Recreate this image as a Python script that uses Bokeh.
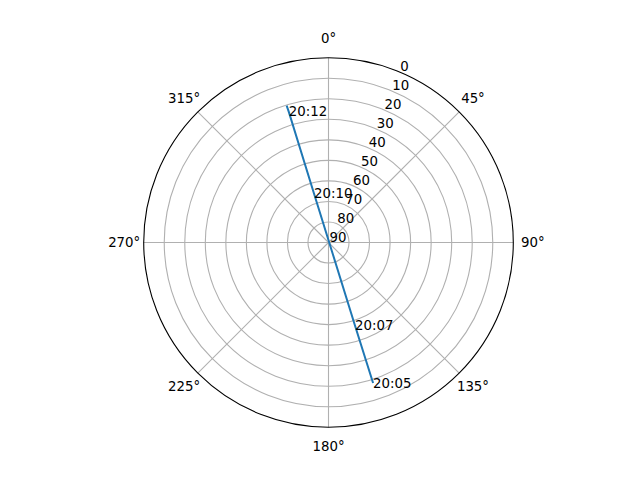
import numpy as np
from bokeh.plotting import figure
from bokeh.models import Range1d, ColumnDataSource
from bokeh.core.properties import value
from bokeh.embed import file_html
from bokeh.resources import INLINE

# Satellite pass (azimuth in degrees clockwise from north, elevation in degrees)
track_az = [162.4, 162.3, 343.5, 343.1, 343.0]
track_el = [18.2, 47.6, 65.1, 23.5, 20.3]
track_labels = ["20:05", "20:07", "20:10", "20:12", ""]

ring_el = [10, 20, 30, 40, 50, 60, 70, 80]
rlabel_el = [0, 10, 20, 30, 40, 50, 60, 70, 80, 90]
theta_ticks = [0, 45, 90, 135, 180, 225, 270, 315]
theta_labels = ["0°", "45°", "90°", "135°", "180°", "225°", "270°", "315°"]

FONT = "DejaVu Sans"
FS = "13.33px"

def to_xy(az, el):
    az = np.radians(np.asarray(az, dtype=float))
    r = 90.0 - np.asarray(el, dtype=float)
    return r * np.sin(az), r * np.cos(az)

scale = 184.8 / 90.0
W, H = 624, 464
cx, cy = 328, 242
p = figure(width=W, height=H, output_backend="svg", toolbar_location=None,
           x_range=Range1d(-cx / scale, (W - cx) / scale),
           y_range=Range1d(-(H - cy) / scale, cy / scale),
           min_border=0, outline_line_color=None)
p.axis.visible = False
p.grid.visible = False
p.background_fill_color = "white"
p.border_fill_color = "white"

# grid rings
p.circle(x=[0] * len(ring_el), y=[0] * len(ring_el), radius=[90 - e for e in ring_el],
         fill_color=None, line_color="#b0b0b0", line_width=1.1)
# radial grid lines
for t in theta_ticks:
    ex, ey = to_xy([t], [0])
    p.line([0, ex[0]], [0, ey[0]], line_color="#b0b0b0", line_width=1.1)
# outer spine
p.circle(x=[0], y=[0], radius=[90], fill_color=None, line_color="black", line_width=1.1)

# theta labels
tx = [99.5 * np.sin(np.radians(t)) for t in theta_ticks]
ty = [99.5 * np.cos(np.radians(t)) for t in theta_ticks]
p.text(x=tx, y=ty, text=theta_labels, text_align="center", text_baseline="middle",
       text_font=value(FONT), text_font_size=FS, text_color="black")

# radial labels at 22.5 degrees
rx, ry = to_xy([22.5] * len(rlabel_el), rlabel_el)
p.text(x=rx, y=ry, text=[str(v) for v in rlabel_el], text_align="left", text_baseline="bottom",
       x_offset=1, y_offset=-1, text_font=value(FONT), text_font_size=FS, text_color="black")

# track
x, y = to_xy(track_az, track_el)
p.line(x, y, line_color="#1f77b4", line_width=2.0)
src = ColumnDataSource(dict(x=x, y=y, t=track_labels))
p.text(x="x", y="y", text="t", source=src, text_align="left", text_baseline="alphabetic",
       text_font=value(FONT), text_font_size=FS, text_color="black")

open("out.html", "w").write(file_html(p, INLINE))
